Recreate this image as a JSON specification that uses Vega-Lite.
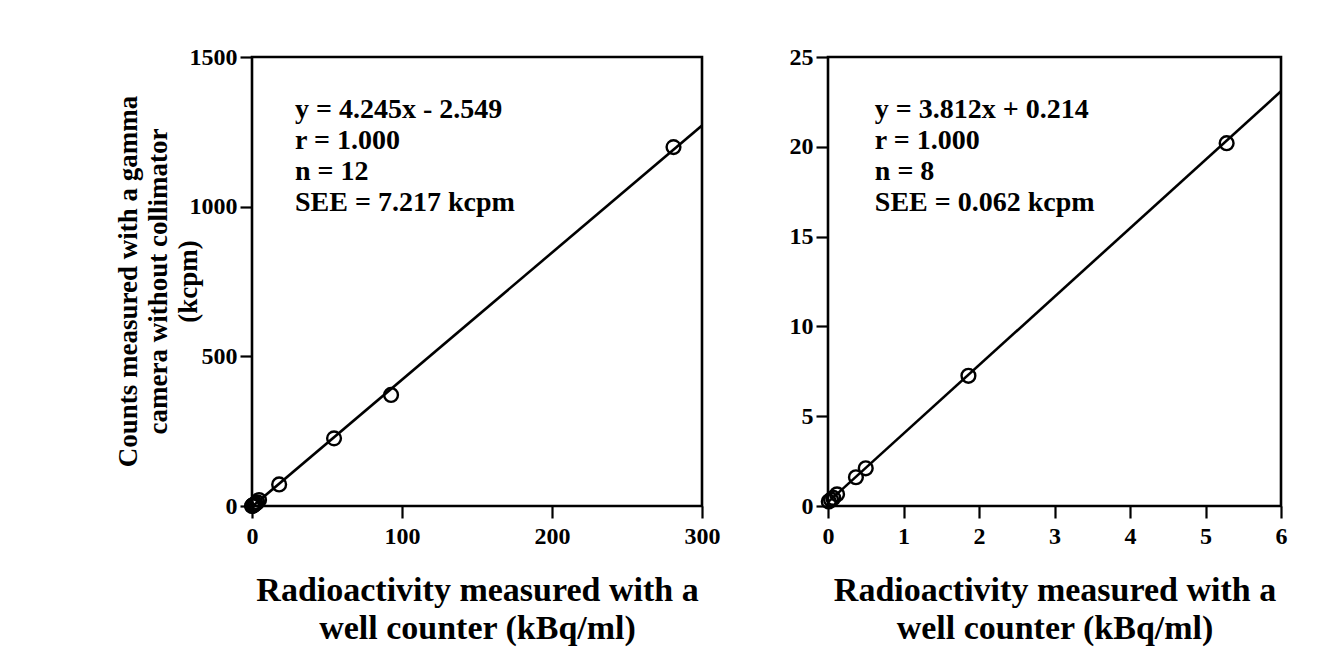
{
  "$schema": "https://vega.github.io/schema/vega-lite/v6.json",
  "padding": {"left": 112, "top": 43, "right": 5, "bottom": 5},
  "background": "white",
  "datasets": {
    "left_points": [
      {"x": 0.05, "y": 0.2}, {"x": 0.3, "y": 0.8}, {"x": 0.6, "y": 1.8}, {"x": 1.0, "y": 3.0},
      {"x": 1.6, "y": 5.0}, {"x": 2.4, "y": 8.0}, {"x": 3.5, "y": 12.5}, {"x": 4.7, "y": 20},
      {"x": 18.1, "y": 72}, {"x": 54.7, "y": 226}, {"x": 92.7, "y": 371}, {"x": 281, "y": 1199}
    ],
    "left_fit": [{"x": 0, "y": -2.549}, {"x": 300, "y": 1271}],
    "left_text": [
      {"x": 28.7, "y": 1323, "label": "y = 4.245x - 2.549"},
      {"x": 28.7, "y": 1219, "label": "r = 1.000"},
      {"x": 28.7, "y": 1116, "label": "n = 12"},
      {"x": 28.7, "y": 1012, "label": "SEE = 7.217 kcpm"}
    ],
    "right_points": [
      {"x": 0.01, "y": 0.25}, {"x": 0.04, "y": 0.35}, {"x": 0.07, "y": 0.45}, {"x": 0.12, "y": 0.65},
      {"x": 0.37, "y": 1.6}, {"x": 0.5, "y": 2.1}, {"x": 1.86, "y": 7.25}, {"x": 5.28, "y": 20.2}
    ],
    "right_fit": [{"x": 0, "y": 0.214}, {"x": 6, "y": 23.09}],
    "right_text": [
      {"x": 0.62, "y": 22.05, "label": "y = 3.812x + 0.214"},
      {"x": 0.62, "y": 20.32, "label": "r = 1.000"},
      {"x": 0.62, "y": 18.6, "label": "n = 8"},
      {"x": 0.62, "y": 16.87, "label": "SEE = 0.062 kcpm"}
    ]
  },
  "hconcat": [
    {
      "width": 450,
      "height": 449,
      "layer": [
        {
          "data": {"name": "left_fit"},
          "mark": {"type": "line", "color": "black", "strokeWidth": 2.6, "clip": true},
          "encoding": {
            "x": {"field": "x", "type": "quantitative", "scale": {"domain": [0, 300], "nice": false},
              "axis": {"values": [0, 100, 200, 300], "format": "d", "title": ["Radioactivity measured with a", "well counter (kBq/ml)"]}},
            "y": {"field": "y", "type": "quantitative", "scale": {"domain": [0, 1500], "nice": false},
              "axis": {"values": [0, 500, 1000, 1500], "format": "d", "title": ["Counts measured with a gamma", "camera without collimator", "(kcpm)"],
                "titleX": -124, "titleY": 224, "titleAngle": -90, "titleAlign": "center", "titleBaseline": "middle", "titleFontSize": 27, "titleLineHeight": 30}}
          }
        },
        {
          "data": {"name": "left_points"},
          "mark": {"type": "point", "shape": "circle", "filled": false, "color": "black", "strokeWidth": 2.4, "size": 190, "opacity": 1},
          "encoding": {
            "x": {"field": "x", "type": "quantitative"},
            "y": {"field": "y", "type": "quantitative"}
          }
        },
        {
          "data": {"name": "left_text"},
          "mark": {"type": "text", "align": "left", "baseline": "middle", "font": "Liberation Serif", "fontWeight": "bold", "fontSize": 28, "color": "black"},
          "encoding": {
            "x": {"field": "x", "type": "quantitative"},
            "y": {"field": "y", "type": "quantitative"},
            "text": {"field": "label", "type": "nominal"}
          }
        }
      ]
    },
    {
      "width": 453,
      "height": 449,
      "layer": [
        {
          "data": {"name": "right_fit"},
          "mark": {"type": "line", "color": "black", "strokeWidth": 2.6, "clip": true},
          "encoding": {
            "x": {"field": "x", "type": "quantitative", "scale": {"domain": [0, 6], "nice": false},
              "axis": {"values": [0, 1, 2, 3, 4, 5, 6], "format": "d", "title": ["Radioactivity measured with a", "well counter (kBq/ml)"]}},
            "y": {"field": "y", "type": "quantitative", "scale": {"domain": [0, 25], "nice": false},
              "axis": {"values": [0, 5, 10, 15, 20, 25], "format": "d", "title": null}}
          }
        },
        {
          "data": {"name": "right_points"},
          "mark": {"type": "point", "shape": "circle", "filled": false, "color": "black", "strokeWidth": 2.4, "size": 190, "opacity": 1},
          "encoding": {
            "x": {"field": "x", "type": "quantitative"},
            "y": {"field": "y", "type": "quantitative"}
          }
        },
        {
          "data": {"name": "right_text"},
          "mark": {"type": "text", "align": "left", "baseline": "middle", "font": "Liberation Serif", "fontWeight": "bold", "fontSize": 28, "color": "black"},
          "encoding": {
            "x": {"field": "x", "type": "quantitative"},
            "y": {"field": "y", "type": "quantitative"},
            "text": {"field": "label", "type": "nominal"}
          }
        }
      ]
    }
  ],
  "resolve": {"scale": {"x": "independent", "y": "independent"}},
  "config": {
    "concat": {"spacing": 65},
    "view": {"stroke": "black", "strokeWidth": 2.6},
    "axis": {
      "domain": false,
      "grid": false,
      "ticks": true,
      "tickColor": "black",
      "tickWidth": 2.2,
      "tickSize": 12,
      "labelFont": "Liberation Serif",
      "labelFontWeight": "bold",
      "labelFontSize": 24,
      "labelColor": "black",
      "labelFlush": false,
      "labelOverlap": false,
      "titleFont": "Liberation Serif",
      "titleFontWeight": "bold",
      "titleColor": "black"
    },
    "axisY": {"labelPadding": 3},
    "axisX": {"labelPadding": 6, "titleFontSize": 34, "titleLineHeight": 38, "titlePadding": 25}
  }
}
